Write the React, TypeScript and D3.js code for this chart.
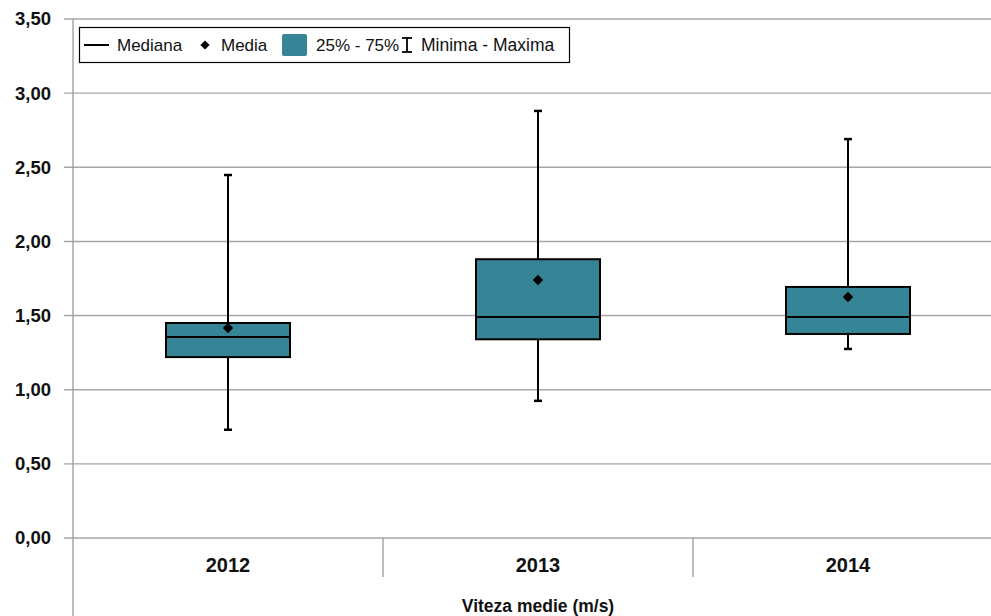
import React from "react";
import * as d3 from "d3";

const categories = ["2012", "2013", "2014"];
const minValues = [0.73, 0.925, 1.275];
const q1Values = [1.22, 1.34, 1.376];
const medianValues = [1.356, 1.49, 1.49];
const q3Values = [1.45, 1.88, 1.693];
const maxValues = [2.448, 2.88, 2.69];
const meanValues = [1.416, 1.74, 1.625];
const yTicks = [0, 0.5, 1, 1.5, 2, 2.5, 3, 3.5];
const xTitle = "Viteza medie (m/s)";

const W = 991;
const H = 616;
const FONT = "'Liberation Sans', Arial, sans-serif";
const BOX_FILL = "#358596";
const GRID = "#a6a6a6";

const diamondPath = (r: number) => {
  const p = d3.path();
  p.moveTo(0, -r);
  p.lineTo(r, 0);
  p.lineTo(0, r);
  p.lineTo(-r, 0);
  p.closePath();
  return p.toString();
};

export default function App() {
  const x = d3.scaleBand<string>().domain(categories).range([73, 73 + 3 * 310]).padding(0);
  const y = d3.scaleLinear().domain([0, 3.5]).range([538, 19]);
  const bw = x.bandwidth() * 0.4;
  const fmt = (v: number) => v.toFixed(2).replace(".", ",");
  const diamond = diamondPath(5.2);
  const legendDiamond = diamondPath(4.6);

  return (
    <svg width={W} height={H} style={{ position: "absolute", left: 0, top: 0, background: "#fff" }} fontFamily={FONT}>
      {/* grid lines */}
      {yTicks.map((t) => (
        <g key={t}>
          <line x1={64} x2={W} y1={y(t)} y2={y(t)} stroke={GRID} strokeWidth={1.4} />
          <text x={51} y={y(t)} dy="0.35em" textAnchor="end" fontSize={18.5} fontWeight="bold" fill="#111">
            {fmt(t)}
          </text>
        </g>
      ))}
      {/* y axis */}
      <line x1={73} x2={73} y1={19} y2={H} stroke="#9a9a9a" strokeWidth={1.3} />
      {/* category separators */}
      {categories.slice(1).map((c) => (
        <line key={c} x1={x(c)!} x2={x(c)!} y1={538} y2={577} stroke="#9a9a9a" strokeWidth={1.3} />
      ))}
      {/* category labels */}
      {categories.map((c) => (
        <text key={c} x={x(c)! + x.bandwidth() / 2} y={565} dy="0.35em" textAnchor="middle" fontSize={20} fontWeight="bold" fill="#111">
          {c}
        </text>
      ))}
      <text x={538} y={606} dy="0.35em" textAnchor="middle" fontSize={17.5} fontWeight="bold" fill="#111">
        {xTitle}
      </text>
      {/* boxes */}
      {categories.map((c, i) => {
        const cx = x(c)! + x.bandwidth() / 2;
        return (
          <g key={c}>
            <line x1={cx} x2={cx} y1={y(maxValues[i])} y2={y(minValues[i])} stroke="#000" strokeWidth={2} />
            <line x1={cx - 4} x2={cx + 4} y1={y(maxValues[i])} y2={y(maxValues[i])} stroke="#000" strokeWidth={2.5} />
            <line x1={cx - 4} x2={cx + 4} y1={y(minValues[i])} y2={y(minValues[i])} stroke="#000" strokeWidth={2.5} />
            <rect x={cx - bw / 2} y={y(q3Values[i])} width={bw} height={y(q1Values[i]) - y(q3Values[i])} fill={BOX_FILL} stroke="#000" strokeWidth={2} />
            <line x1={cx - bw / 2} x2={cx + bw / 2} y1={y(medianValues[i])} y2={y(medianValues[i])} stroke="#000" strokeWidth={2} />
            <path d={diamond} transform={`translate(${cx},${y(meanValues[i])})`} fill="#000" />
          </g>
        );
      })}
      {/* legend */}
      <g>
        <rect x={79.5} y={27.5} width={490} height={35} fill="#fff" stroke="#000" strokeWidth={1.2} />
        <line x1={84} x2={109} y1={45} y2={45} stroke="#000" strokeWidth={2} />
        <text x={117} y={45} dy="0.35em" fontSize={17} fill="#111">Mediana</text>
        <path d={legendDiamond} transform="translate(205,45)" fill="#000" />
        <text x={221} y={45} dy="0.35em" fontSize={17} fill="#111">Media</text>
        <rect x={282} y={34} width={25} height={22} rx={2} fill={BOX_FILL} />
        <text x={316} y={45} dy="0.35em" fontSize={17} fill="#111">25% - 75%</text>
        <line x1={407} x2={407} y1={38} y2={52} stroke="#000" strokeWidth={1.8} />
        <line x1={402} x2={412} y1={38} y2={38} stroke="#000" strokeWidth={1.8} />
        <line x1={402} x2={412} y1={52} y2={52} stroke="#000" strokeWidth={1.8} />
        <text x={421} y={45} dy="0.35em" fontSize={17.5} fill="#111">Minima - Maxima</text>
      </g>
    </svg>
  );
}
